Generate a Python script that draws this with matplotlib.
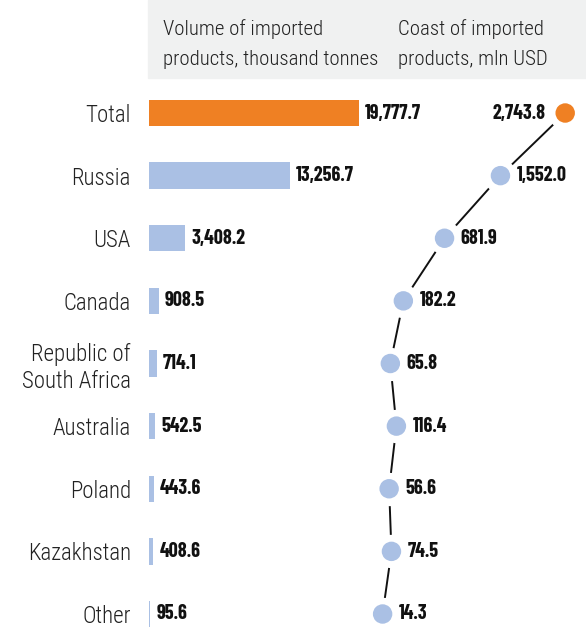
import numpy as np
import matplotlib
matplotlib.use('Agg')
import matplotlib.pyplot as plt
from matplotlib.patches import Rectangle
from matplotlib import font_manager

countries = ["Total", "Russia", "USA", "Canada", "Republic of\nSouth Africa",
             "Australia", "Poland", "Kazakhstan", "Other"]
volume = [19777.7, 13256.7, 3408.2, 908.5, 714.1, 542.5, 443.6, 408.6, 95.6]
cost = [2743.8, 1552.0, 681.9, 182.2, 65.8, 116.4, 56.6, 74.5, 14.3]
header_volume = ["Volume of imported", "products, thousand tonnes"]
header_cost = ["Coast of imported", "products, mln USD"]

ORANGE = "#EF8023"
BLUE = "#AAC0E4"
GREY_BG = "#F0F1F1"

installed = {f.name for f in font_manager.fontManager.ttflist}

def pick(*fams):
    for f in fams:
        if f in installed:
            return f
    return "Roboto"

LABEL_FONT = pick("Roboto Condensed", "Barlow Semi Condensed", "Liberation Sans Narrow")
NUM_FONT = pick("Barlow Condensed", "Roboto Condensed", "Liberation Sans Narrow")
plt.rcParams['font.family'] = [LABEL_FONT, 'DejaVu Sans']

W, H = 586, 627
fig = plt.figure(figsize=(W / 100, H / 100), dpi=100)

def fx(px):
    return px / W

def fy(px):
    return 1 - px / H

# header band
fig.patches.append(Rectangle((fx(148), fy(78)), 1 - fx(148), fy(0) - fy(78),
                             transform=fig.transFigure, color=GREY_BG, zorder=0))
for xpx, lines in [(163, header_volume), (398, header_cost)]:
    for base_px, line in zip([35, 65], lines):
        fig.text(fx(xpx), fy(base_px), line, ha="left", va="baseline", fontsize=15,
                 fontweight="light", color="#222222")

y = np.arange(len(countries))
row_px = 62.6
top_px, first_px, last_px = 80, 113, 614
ylim = (len(countries) - 1 + (H - last_px) / row_px, -(first_px - top_px) / row_px)

# bars
ax = fig.add_axes([fx(149), 0, fx(379) - fx(149), fy(top_px)])
colors = [ORANGE] + [BLUE] * (len(countries) - 1)
ax.barh(y, volume, height=0.42, color=colors)
ax.set_xlim(0, volume[0] * 230 / 210)
ax.set_ylim(*ylim)
for yi, v in zip(y, volume):
    ax.annotate(f"{v:,.1f}", (v, yi), xytext=(4.5, 0), textcoords="offset points",
                ha="left", va="center", fontsize=14.5, fontweight="bold",
                family=NUM_FONT, color="#111111")
ax.set_yticks(y)
ax.set_yticklabels(countries, fontsize=16.5, fontweight="light", color="#222222",
                   linespacing=1.22)
ax.tick_params(axis="y", length=0, pad=13)
ax.set_xticks([])
for s in ax.spines.values():
    s.set_visible(False)

# dots on a compressed (power) scale
ax2 = fig.add_axes([fx(379), 0, 1 - fx(379), fy(top_px)])
ax2.set_xscale("function", functions=(lambda v: np.sign(v) * np.abs(v) ** 0.75,
                                      lambda t: np.sign(t) * np.abs(t) ** (4 / 3)))
ax2.set_xlim(0, 3160)
ax2.set_ylim(*ylim)
ax2.plot(cost, y, color="#111111", lw=1.4, zorder=1, clip_on=False)
ax2.plot(cost, y, "o", ms=23, color="white", zorder=2, clip_on=False)
ax2.scatter(cost, y, s=14 ** 2, c=colors, zorder=3, linewidths=0, clip_on=False)
for i, (yi, v) in enumerate(zip(y, cost)):
    dx, ha = (-14, "right") if i == 0 else (11.5, "left")
    ax2.annotate(f"{v:,.1f}", (v, yi), xytext=(dx, 0), textcoords="offset points",
                 ha=ha, va="center", fontsize=14.5, fontweight="bold",
                 family=NUM_FONT, color="#111111")
ax2.axis("off")

fig.savefig("out.png", dpi=100)
